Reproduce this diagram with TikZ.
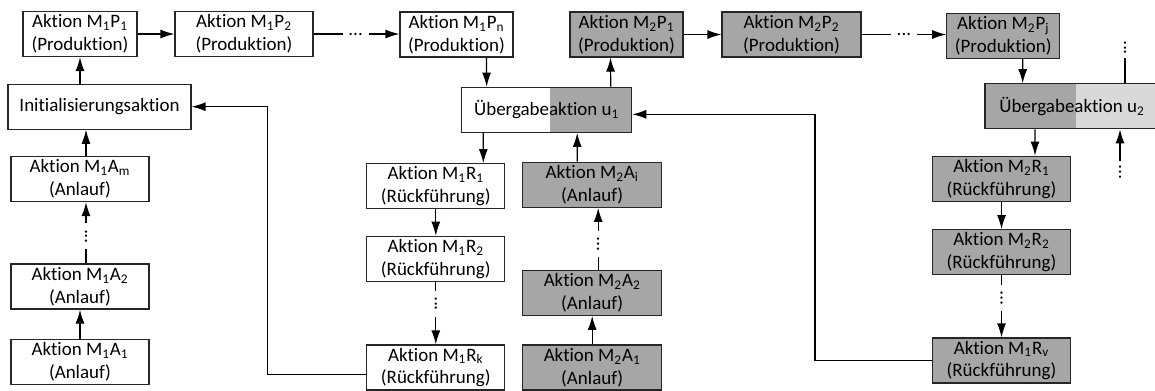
\documentclass[tikz,border=0pt]{standalone}
\usepackage{fontspec}
\setmainfont{Carlito}[Ligatures={CommonOff,ContextualOff}]
\usetikzlibrary{arrows.meta}
\usetikzlibrary{calc}
\definecolor{grau}{RGB}{166,166,166}
\definecolor{hellgrau}{RGB}{217,217,217}

\begin{document}
\begin{tikzpicture}[x=0.02cm,y=-0.02cm,line width=0.7pt,
    >={Latex[length=2.8mm,width=1.8mm]},
    aktion/.style={draw=black!85,rectangle,minimum width=#1,minimum height=0.9cm,inner sep=0pt,align=center,font=\fontsize{10.8}{13}\selectfont},
    aktion/.default=2.76cm,
    punkte/.style={fill=white,inner sep=3.3pt,font=\fontsize{10.8}{13}\selectfont}]
    \useasboundingbox (0,0) rectangle (1155,390);

    % Maschine 1
    \node[aktion=2.28cm] (p11) at (80,34) {Aktion M\textsubscript{1}P\textsubscript{1}\\(Produktion)};
    \node[aktion=2.76cm] (p12) at (244,34) {Aktion M\textsubscript{1}P\textsubscript{2}\\(Produktion)};
    \node[aktion=2.26cm] (p1n) at (456.5,34.5) {Aktion M\textsubscript{1}P\textsubscript{n}\\(Produktion)};
    \node[aktion=3.66cm] (init) at (99.5,106.7) {Initialisierungsaktion};
    \node[aktion] (a1m) at (80,179) {Aktion M\textsubscript{1}A\textsubscript{m}\\(Anlauf)};
    \node[aktion] (a12) at (80,286.5) {Aktion M\textsubscript{1}A\textsubscript{2}\\(Anlauf)};
    \node[aktion] (a11) at (80,361.8) {Aktion M\textsubscript{1}A\textsubscript{1}\\(Anlauf)};
    \node[aktion] (r11) at (435.8,186.2) {Aktion M\textsubscript{1}R\textsubscript{1}\\(Rückführung)};
    \node[aktion] (r12) at (435.8,258.8) {Aktion M\textsubscript{1}R\textsubscript{2}\\(Rückführung)};
    \node[aktion] (r1k) at (435.8,367.5) {Aktion M\textsubscript{1}R\textsubscript{k}\\(Rückführung)};

    % Uebergaben
    \node[aktion=3.4cm,fill=white,path picture={\fill[grau] ([xshift=0.06cm]path picture bounding box.south) rectangle (path picture bounding box.north east);}] (u1) at (546.7,109.8) {Übergabeaktion u\textsubscript{1}};
    \node[aktion=3.48cm,fill=grau,path picture={\fill[hellgrau] ([xshift=0.074cm]path picture bounding box.south) rectangle (path picture bounding box.north east);}] (u2) at (1072,106.3) {Übergabeaktion u\textsubscript{2}};

    % Maschine 2
    \node[aktion=2.26cm,fill=grau] (p21) at (626.5,34.5) {Aktion M\textsubscript{2}P\textsubscript{1}\\(Produktion)};
    \node[aktion=2.78cm,fill=grau] (p22) at (791.5,34.5) {Aktion M\textsubscript{2}P\textsubscript{2}\\(Produktion)};
    \node[aktion=2.26cm,fill=grau] (p2j) at (1003.3,35.8) {Aktion M\textsubscript{2}P\textsubscript{j}\\(Produktion)};
    \node[aktion=2.78cm,fill=grau] (a2i) at (592.2,184.8) {Aktion M\textsubscript{2}A\textsubscript{i}\\(Anlauf)};
    \node[aktion=2.78cm,fill=grau] (a22) at (592.2,292.8) {Aktion M\textsubscript{2}A\textsubscript{2}\\(Anlauf)};
    \node[aktion=2.78cm,fill=grau] (a21) at (592.2,367.5) {Aktion M\textsubscript{2}A\textsubscript{1}\\(Anlauf)};
    \node[aktion,fill=grau] (r21) at (1001.5,178.7) {Aktion M\textsubscript{2}R\textsubscript{1}\\(Rückführung)};
    \node[aktion,fill=grau] (r22) at (1001.5,252.2) {Aktion M\textsubscript{2}R\textsubscript{2}\\(Rückführung)};
    \node[aktion,fill=grau] (r2v) at (1001.5,360.5) {Aktion M\textsubscript{1}R\textsubscript{v}\\(Rückführung)};

    % Pfeile Maschine 1
    \draw[->] (p11) -- (p12);
    \draw[->] (p12.east) -- (p12.east -| p1n.west) node[pos=0.49,punkte] {...};
    \draw[->] ($(init.north)+(-19.5,0)$) -- (p11.south);
    \draw[->] ($(a1m.north)+(6,0)$) -- ($(init.south)+(-13.5,0)$);
    \draw[->] ($(a12.north)+(6,0)$) -- ($(a1m.south)+(6,0)$) node[pos=0.44,rotate=90,punkte] {...};
    \draw[->] (a11.north) -- (a12.south);
    \draw[->] ($(p1n.south)+(30,0)$) -- ($(u1.north)+(-60,0)$);
    \draw[->] ($(u1.south)+(-63.4,0)$) -- ($(r11.north)+(47.5,0)$);
    \draw[->] (r11.south) -- (r12.north);
    \draw[->] (r12.south) -- (r1k.north) node[pos=0.35,rotate=90,punkte] {...};
    \draw[->] ($(r1k.west)+(0,7)$) -- ++(-99,0) |- (init.east);

    % Pfeile Maschine 2
    \draw[->] ($(u1.north)+(64,0)$) -- ($(p21.south)+(-16,0)$);
    \draw[->] (p21) -- (p22);
    \draw[->] (p22.east) -- (p22.east -| p2j.west) node[pos=0.5,punkte] {...};
    \draw[->] ($(p2j.south)+(19.4,0)$) -- ($(u2.north)+(-49.3,0)$);
    \draw[->] ($(a2i.north)+(-15,0)$) -- ($(u1.south)+(30.5,0)$);
    \draw[->] ($(a22.north)+(6,0)$) -- ($(a2i.south)+(6,0)$) node[pos=0.41,rotate=90,punkte] {...};
    \draw[->] (a21.north) -- (a22.south);
    \draw[->] ($(u2.south)+(-37,0)$) -- ($(r21.north)+(33.5,0)$);
    \draw[->] (r21.south) -- (r22.north);
    \draw[->] (r22.south) -- (r2v.north) node[pos=0.37,rotate=90,punkte] {...};
    \draw[->] (r2v.west) -- ++(-117,0) |- ($(u1.east)+(0,4.5)$);
    \draw ($(u2.north)+(53,0)$) -- ++(0,-25) node[pos=1,rotate=90,anchor=west,punkte,inner sep=1.5pt] {...};
    \draw[<-] ($(u2.south)+(48,0)$) -- ++(0,32) node[pos=1,rotate=90,anchor=east,punkte,inner sep=1.5pt] {...};
\end{tikzpicture}
\end{document}
